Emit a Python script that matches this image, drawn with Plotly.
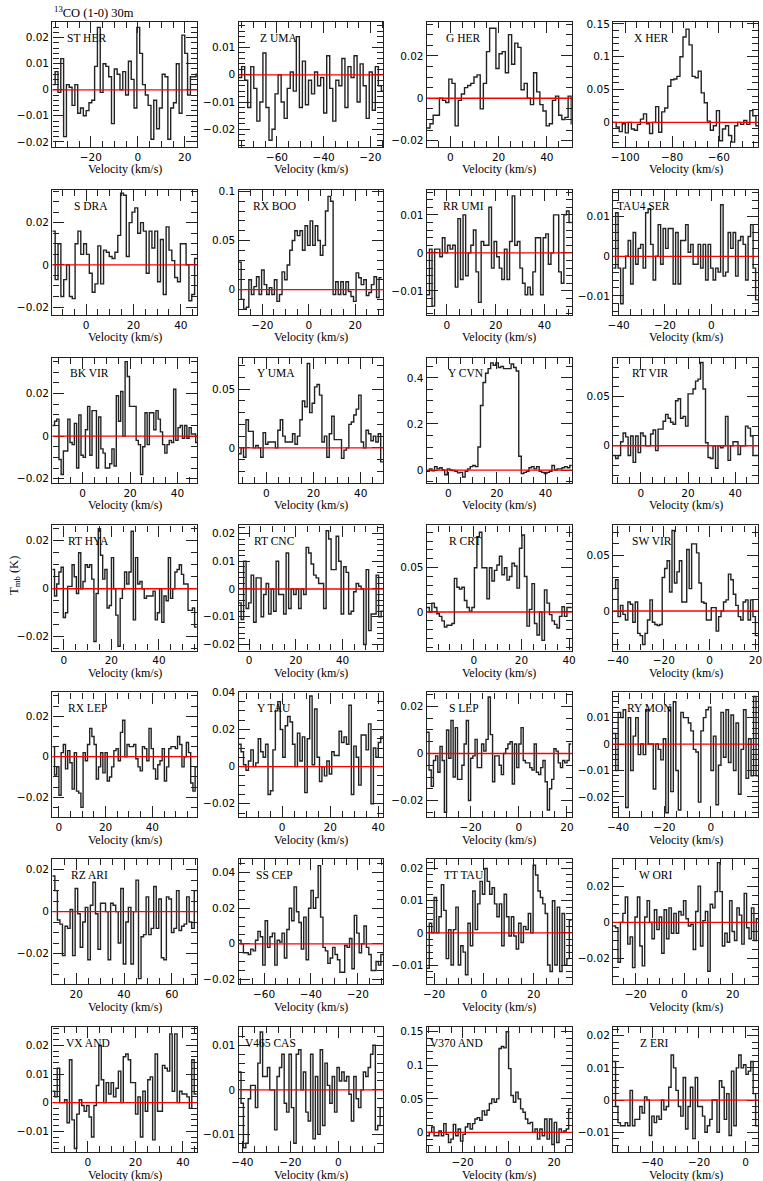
import math
import plotly.graph_objects as go

# panel order: left to right, top to bottom
STARS = ["ST HER", "Z UMA", "G HER", "X HER",
         "S DRA", "RX BOO", "RR UMI", "TAU4 SER",
         "BK VIR", "Y UMA", "Y CVN", "RT VIR",
         "RT HYA", "RT CNC", "R CRT", "SW VIR",
         "RX LEP", "Y TAU", "S LEP", "RY MON",
         "RZ ARI", "SS CEP", "TT TAU", "W ORI",
         "VX AND", "V465 CAS", "V370 AND", "Z ERI"]

# first channel edge and channel width (km/s)
V_START = [-36.4, -76.4, -9.7, -105.2,
           -14.2, -30.2, -8.2, -42.4,
           -12.8, -11.8, -8.8, -11.8,
           -4.8, -4.5, -19.7, -42.1,
           -2.8, -18.1, -38.2, -42.1,
           10.0, -70.9, -22.9, -29.3,
           -15.0, -41.6, -35.6, -56.8]
DV = [1.2, 1.3, 1.3, 1.3,
      1.2, 1.1, 1.06, 1.08,
      0.93, 1.04, 1.05, 1.06,
      0.92, 1.07, 1.05, 1.07,
      0.94, 1.02, 0.91, 1.08,
      1.06, 1.03, 0.97, 1.0,
      1.03, 1.0, 1.05, 1.035]

# T_mb per channel, in mK
ST_HER = [2, 7, -1, 12, -18, 2, 1, -6, 2, -9, -7, -10, -8, -5, -4, 9, 24, -1, 10, 9,
          5, -13, 8, 6, 0, 7, -2, 11, 4, -7, 24, 14, 2, -2, -6, -19, -4, -15, -7, 6,
          5, -19, -7, -5, 10, -9, 21, 14, -2, 5, 5, 6]
Z_UMA = [-1, 3, -2, -12, 3, -5, -17, -10, 8, -12, -24, -20, -7, 0, -10, -16, -5, 1, -6, 14,
         -12, 5, -11, -2, -7, 1, -4, -1, -14, 7, -5, -17, -2, -4, 6, -12, 3, -1, 7, -10,
         4, -4, -16, 1, -13, 3, -4, -6, 6]
G_HER = [-14, -12, -8, -8, 0, -1, -2, 9, 7, -13, -1, 2, 5, 6, 7, 10, 11, -5, 7, 22,
         33, 33, 14, 21, 22, 12, 30, 16, 26, 24, 4, 7, 0, -3, 12, 3, -3, -6, -13, -12,
         -1, 1, -8, -10, -9, 1, -12]
X_HER = [0, -7, -14, -2, -16, 0, -10, -12, -3, 5, 13, -2, -17, 0, 24, -15, 16, 22, 55, 65,
         66, 70, 100, 130, 142, 118, 70, 68, 78, 45, 30, 2, -12, -5, 18, -28, -10, -5, -20, -30,
         -5, 0, -3, 3, -3, 18, 10, -5, -8]
S_DRA = [16, -7, 10, -15, -7, 0, -15, -16, 10, 16, 5, 10, 5, -4, -13, -9, 9, -9, 7, 6,
         4, 3, 6, 14, 34, 33, 4, 20, 25, 27, 15, 20, 16, -4, 16, 8, 16, -8, 12, -14,
         18, 7, 2, -6, -8, 10, 10, 0, -17, -14, 3]
RX_BOO = [28, -10, -20, -18, 10, -5, 3, 13, -5, 20, 5, -5, 2, -5, 10, -12, -5, 18, 10, 25,
          40, 50, 60, 55, 60, 40, 65, 45, 70, 45, 65, 50, 35, 45, 80, 95, 90, -5, 8, -5,
          8, -5, 8, -2, -7, -12, 17, 12, 5, 10, -6, -3, 5, 13, -8, 12]
RR_UMI = [-11, 1, -14, 1, 1, -1, 4, 0, 2, 1, 2, -9, 9, -7, 10, -6, 0, 2, 6, -5,
          -13, 3, 2, 2, 12, -4, 3, -1, -4, -7, 1, -7, 3, 15, 2, 3, -4, -8, -11, -9,
          -11, -5, 4, 4, -11, 4, 5, -3, 0, 10, 10, -5, -8, 10, 11, 8]
TAU4_SER = [-3, 11, -3, -12, -3, 0, 4, -7, 6, -2, 2, 3, -3, 11, 12, 3, -6, 0, 8, -2,
            7, 2, 7, 7, -7, 6, -7, 4, 4, 8, 1, 3, -2, -2, 3, -3, 3, -6, 3, -3,
            -6, -3, -4, 13, -5, -4, 6, 2, 6, -5, 4, 5, 3, -6, 5, 8, -3, -11]
BK_VIR = [5, 7, 8, -11, -18, -7, -7, 8, -3, -4, 6, -15, 10, -9, -10, 3, 14, -9, 12, 12,
          -15, 9, -6, -8, -15, -15, -13, -6, -14, 19, 7, 21, 0, 35, 28, 14, 14, 14, -2, -4,
          -18, -5, 11, -4, 11, 11, 3, 12, 8, 2, -4, -8, -4, -2, -3, 22, -2, 4, 5, -1,
          5, -1, 4, 1, 1, -3]
Y_UMA = [-5, 0, -8, 24, 14, 14, 0, 2, 0, -8, 13, 3, 5, 5, 5, 0, 15, 24, 10, 5,
         5, 5, 12, 3, 10, 24, 40, 35, 72, 30, 38, 52, 54, 45, 5, 10, -8, 12, 27, 7,
         7, 7, -9, -2, 0, 20, 22, 28, 33, 45, 5, 0, 15, 12, 6, 10, 5, 12, -12]
Y_CVN = [-5, 5, -3, 15, 5, 10, 0, -20, 5, 0, -2, -5, -12, -10, -30, -5, 5, 15, 20, 15,
         100, 280, 380, 420, 440, 465, 455, 465, 445, 450, 440, 440, 440, 460, 445, 430, 60, -15, -10, -5,
         10, 15, 5, 15, -5, -10, -15, -10, -5, 20, 0, 5, 5, 10, 15, 10, 20]
RT_VIR = [-10, -13, -10, 4, 13, 9, -10, 10, -17, 10, -7, 13, 10, 0, 0, 12, 16, -5, 17, 17,
          25, 32, 28, 24, 22, 46, 48, 28, 30, 20, 53, 53, 58, 66, 68, 85, 58, 3, -12, -13,
          0, -23, 0, -2, 0, 30, -15, 0, 4, 4, -9, 0, 0, 20, 18, 10, -10, -10]
RT_HYA = [8, -3, 2, 7, 9, -12, -10, 1, 1, 10, 5, -2, 15, 0, 3, 10, 9, 10, 4, -22,
          -2, 25, 14, 4, 8, -8, -7, 13, 0, -11, -24, -4, 0, 7, 2, 7, 24, -13, 13, 2,
          3, 0, -4, -3, -3, -3, -1, -13, -10, 0, -14, -3, -5, 13, -4, 0, 7, 8, 10, 6,
          2, 2, -9, -9, -8, -16]
RT_CNC = [-5, -11, 10, -7, -5, 5, -12, 4, 4, -10, -2, 2, -9, 0, -8, 10, -2, -2, -9, 13,
          -7, 0, -2, 0, -7, 0, -2, 15, 13, 9, 5, 4, 2, 2, -7, 21, 18, 7, 7, 19,
          10, -9, 8, 6, -9, -8, -1, 2, 1, 0, -20, 7, -15, -9, -9, 5, -10, -8]
R_CRT = [5, 0, 10, 5, -2, -5, -10, -17, -15, -15, -13, 38, 28, 26, 28, 13, 5, 1, 5, 50,
         85, 90, 50, 50, 15, 50, 35, 47, 53, 63, 42, 50, 36, 40, 55, 52, 27, 72, 87, 40,
         -16, 3, 32, -13, -26, 0, -32, 25, 10, -3, -10, -14, -18, -5, 6, -5, 5, 5]
SW_VIR = [20, 28, -5, 5, -3, -8, 8, 6, -10, 8, -20, -22, -30, -20, -8, 10, -10, -12, -13, -12,
          30, 38, 45, 17, 72, 25, 35, 45, 8, 8, 55, 20, 60, 60, 52, 25, 8, 7, -8, -8,
          3, 3, -18, -5, 0, 8, 10, 33, 28, 15, 5, -5, -8, 8, 10, -8, 10, -5, -22]
RX_LEP = [5, -9, -5, -19, 2, 6, -6, 3, -3, -16, 2, -17, -18, -25, 2, -2, 6, 14, 10, 6,
          -11, -5, 2, -8, 2, -12, -10, -5, 3, 4, -2, 12, 18, 0, 6, 5, 5, 6, -1, -5,
          -7, 5, 4, -2, 14, 4, -6, -11, -4, -2, 4, -12, -5, 4, 5, 5, 4, 10, 6, -5,
          0, 7, 2, -13, -17, -5]
Y_TAU = [12, 8, 1, -2, 3, 9, 0, 2, 15, 8, 5, 12, -15, -13, 9, 30, 35, 20, 5, 22,
         27, 24, 12, 0, 18, 3, 16, -14, 15, 38, 1, 31, 5, -8, 0, -5, 3, -4, 8, 6,
         6, 19, 13, 16, 12, 33, -15, 11, 5, -10, 17, 17, 9, 23, -20, 10, 5, 13, 16]
S_LEP = [9, -7, -14, -3, -1, -8, 3, -3, -25, 10, -2, 14, -10, 11, -11, -11, -5, 4, 14, -20,
         -2, -1, 6, -6, -6, 4, 1, 6, 24, 8, -12, -1, -1, -5, -9, 0, 2, 4, 5, -13,
         4, -6, 4, 11, -3, -4, -4, -6, -7, 4, -8, -9, -6, -3, -12, -24, -15, -11, 2, 1,
         -4, -6, -3, -4, -3, 4]
RY_MON = [4, -10, 12, 10, 13, -24, 10, -10, 3, 10, -4, 0, -4, 13, 0, 0, -17, 0, -2, -6,
          2, -26, 14, -18, 16, -10, -25, 12, 10, 10, 8, 5, -2, -3, -22, 5, 10, 13, 14, -10,
          3, -23, -8, 12, -5, 13, -7, 11, -10, 8, -19, -2, 13, -13, 2, -12, 18, -12]
RZ_ARI = [17, 10, -4, -6, -21, -7, -8, 1, -21, 11, -1, -17, -5, 2, -23, 3, 14, -1, -18, 4,
          4, 0, -23, 4, 3, 0, -15, 11, -25, -5, 2, -25, 0, 15, -32, -12, -11, 7, -11, -8,
          12, -8, 6, -22, -23, 7, 6, -10, -8, 10, -9, -7, -6, 7, -5, -8, 10]
SS_CEP = [2, 0, -5, -5, -6, -3, -4, 2, 7, 4, -12, 13, -2, 4, 6, -12, 2, 1, 6, -8,
          8, 20, 13, 32, 18, 12, -3, 15, -9, 20, 30, 20, 26, 44, 15, -2, -4, -11, -8, -2,
          -6, -9, -16, -16, -1, -2, 3, -14, 16, 6, -5, 0, 10, -2, -6, -15, -15, -10, -12, -6]
TT_TAU = [-11, 3, 0, 11, 0, 5, 15, 7, -8, 1, -10, 1, 8, -10, -4, -6, -13, 3, -4, 13,
          1, 9, 16, 12, 20, 16, 12, 14, 9, 5, 9, -4, 12, 5, -1, 5, -1, -5, 3, -3,
          2, 1, 6, 0, 21, 18, 13, 11, 9, 6, -10, -12, 10, -10, 8, -12, 6, -10, -8, 4]
W_ORI = [-2, -3, -22, 0, 5, 14, -12, -8, -25, 3, 14, -13, -24, 3, 12, 0, -9, 7, -4, 3,
         -17, 7, -9, 8, -6, 5, -6, 6, 4, 12, 2, -2, -1, -15, 6, 20, -13, 1, 6, -27,
         10, 8, 17, 33, 17, -13, -6, -11, 12, -5, -10, 8, 4, -12, 16, -3, -9, 8, -10, 2]
VX_AND = [4, 2, 12, 0, 0, 1, -7, 15, -6, -16, -4, 1, -1, -3, -1, -5, -12, -1, 6, 20,
          8, 0, 7, 3, 7, 2, 5, 11, 0, 16, 17, 15, 7, 7, -4, 2, -12, 4, -3, 8,
          9, -13, 17, -3, -3, 13, 12, 11, 24, 4, 24, 0, 4, 3, 3, 2, -2, 15, 3]
V465_CAS = [4, -3, -13, -12, -2, 1, 1, -4, 6, 13, 3, 3, 5, 0, 0, -9, 3, 5, 8, -3,
            -5, 8, -4, -12, 8, 9, 0, 4, -5, -7, 8, -11, 3, -10, 9, -8, 6, 1, -3, 3,
            -5, 5, 2, 4, 2, 3, -1, -7, 3, -2, -4, 0, 4, 3, 5, 8, 10, -9, -8, -4]
V370_AND = [-5, 0, 8, -5, -5, 2, -5, 13, -3, -15, -10, 12, -5, 5, -13, -3, 8, 13, 5, 13,
            20, 22, 18, 32, 26, 33, 43, 50, 45, 50, 125, 128, 126, 150, 95, 55, 45, 60, 50, 35,
            30, 20, 13, 15, 0, 5, -10, 5, -5, 20, -10, 20, -18, 15, -15, 5, 0, 2, 5, 35]
Z_ERI = [12, -2, -7, -8, -8, -7, -8, 3, -8, -6, -6, -2, -4, 1, 0, -11, -5, -7, -5, -6,
         0, -3, -2, 4, 14, 10, 3, -2, -5, 7, -9, -2, 4, -12, 7, -2, -2, -5, -10, -8,
         -6, 0, 0, -10, 6, 4, -6, 2, -11, 9, -8, 10, 14, 10, 11, 8, 9, 12, 2, -8]

SPECTRA = [ST_HER, Z_UMA, G_HER, X_HER, S_DRA, RX_BOO, RR_UMI, TAU4_SER,
           BK_VIR, Y_UMA, Y_CVN, RT_VIR, RT_HYA, RT_CNC, R_CRT, SW_VIR,
           RX_LEP, Y_TAU, S_LEP, RY_MON, RZ_ARI, SS_CEP, TT_TAU, W_ORI,
           VX_AND, V465_CAS, V370_AND, Z_ERI]

# plotted window of every panel
X_RANGE = [(-36.4, 25.3), (-76.4, -14.4), (-9.7, 50.3), (-105.2, -43.2),
           (-14.2, 46.9), (-30.2, 32.2), (-8.2, 51.2), (-42.4, 20.2),
           (-12.8, 48.3), (-11.8, 49.7), (-8.8, 50.8), (-11.8, 49.7),
           (-4.8, 56.1), (-4.5, 57.5), (-19.7, 41.1), (-42.1, 21.1),
           (-2.8, 59.2), (-18.1, 42.2), (-38.2, 22.0), (-42.1, 20.3),
           (10.0, 70.6), (-70.9, -9.0), (-22.9, 35.3), (-29.3, 30.4),
           (-15.0, 46.0), (-41.6, 18.8), (-35.6, 27.7), (-56.8, 5.3)]
Y_RANGE = [(-0.022, 0.0261), (-0.0265, 0.0194), (-0.023, 0.036), (-0.0375, 0.153),
           (-0.0237, 0.0356), (-0.0258, 0.1017), (-0.0163, 0.0166), (-0.0148, 0.0168),
           (-0.0219, 0.0369), (-0.0298, 0.077), (-0.055, 0.488), (-0.0378, 0.090),
           (-0.0258, 0.0264), (-0.0222, 0.0229), (-0.0436, 0.0977), (-0.0354, 0.0765),
           (-0.030, 0.0318), (-0.0274, 0.040), (-0.0272, 0.026), (-0.0278, 0.0196),
           (-0.0347, 0.025), (-0.0228, 0.0476), (-0.016, 0.0229), (-0.0342, 0.0349),
           (-0.0173, 0.0264), (-0.014, 0.0141), (-0.0295, 0.157), (-0.0162, 0.0227)]
Y_STEP = [0.01, 0.01, 0.02, 0.05,
          0.02, 0.05, 0.01, 0.01,
          0.02, 0.05, 0.2, 0.05,
          0.02, 0.01, 0.05, 0.05,
          0.02, 0.02, 0.02, 0.01,
          0.02, 0.02, 0.01, 0.02,
          0.01, 0.01, 0.05, 0.01]
X_STEP = 20
# where the star name starts, px from the left frame
LABEL_DX = [13, 20, 17, 19, 20, 13, 14, 2,
            16, 17, 19, 17, 14, 14, 20, 17,
            14, 17, 20, 12, 17, 16, 15, 24,
            12, 4, 1, 25]

W, H = 763, 1181
COL_X = [46, 235, 426, 615]
PW = 147
ROW_Y = [16, 185, 354, 523, 691, 859, 1028]
PH = 126

SERIF = "Liberation Serif"
SANS = "DejaVu Sans"


def minor_step(step):
    mant = round(step / 10 ** math.floor(math.log10(step)))
    return step / 4 if mant == 2 else step / 5


fig = go.Figure()
shapes, notes = [], []
for i, name in enumerate(STARS):
    k = "" if i == 0 else str(i + 1)
    r, c = divmod(i, 4)
    vals = [t / 1000 for t in SPECTRA[i]]
    edges = [V_START[i] + j * DV[i] for j in range(len(vals) + 1)]
    fig.add_trace(go.Scatter(x=edges, y=vals + vals[-1:], mode="lines",
                             line=dict(color="#222", width=1.4, shape="hv"),
                             xaxis="x" + k, yaxis="y" + k, hoverinfo="skip"))

    x0 = COL_X[c] / W
    x1 = min((COL_X[c] + PW) / W, 0.999)
    y1 = 1 - ROW_Y[r] / H
    y0 = 1 - (ROW_Y[r] + PH) / H
    common = dict(showline=True, mirror="allticks", linecolor="#222", linewidth=1.4,
                  ticks="inside", ticklen=11, tickwidth=1.2, tickcolor="#222",
                  showgrid=False, zeroline=False,
                  tickfont=dict(family=SANS, size=10.5, color="black"))
    fig.update_layout(**{
        "xaxis" + k: dict(domain=[x0, x1], range=list(X_RANGE[i]), anchor="y" + k,
                          dtick=X_STEP, tick0=0,
                          minor=dict(ticks="inside", ticklen=6, dtick=minor_step(X_STEP),
                                     tick0=0, tickcolor="#222", tickwidth=1.2),
                          **common),
        "yaxis" + k: dict(domain=[y0, y1], range=list(Y_RANGE[i]), anchor="x" + k,
                          dtick=Y_STEP[i], tick0=0,
                          minor=dict(ticks="inside", ticklen=6, dtick=minor_step(Y_STEP[i]),
                                     tick0=0, tickcolor="#222", tickwidth=1.2),
                          **common),
    })
    shapes.append(dict(type="line", xref="x" + k + " domain", x0=0, x1=1,
                       yref="y" + k, y0=0, y1=0, line=dict(color="red", width=1.3)))
    notes.append(dict(text=name, xref="x" + k + " domain", yref="y" + k + " domain",
                      x=LABEL_DX[i] / PW, y=1 - 16 / PH, xanchor="left", yanchor="middle",
                      showarrow=False, font=dict(family=SERIF, size=11.5, color="black")))
    notes.append(dict(text="Velocity (km/s)", xref="x" + k + " domain", yref="y" + k + " domain",
                      x=0.5, y=-22.5 / PH, xanchor="center", yanchor="middle",
                      showarrow=False, font=dict(family=SERIF, size=12, color="black")))

notes.append(dict(text="<sup>13</sup>CO (1-0) 30m", xref="paper", yref="paper",
                  x=46 / W, y=1 - 6 / H, xanchor="left", yanchor="middle", showarrow=False,
                  font=dict(family=SERIF, size=12.5, color="black")))
notes.append(dict(text="T<sub>mb</sub> (K)", xref="paper", yref="paper",
                  x=8 / W, y=1 - 573 / H, xanchor="center", yanchor="middle", textangle=-90,
                  showarrow=False, font=dict(family=SERIF, size=12.5, color="black")))

fig.update_layout(width=W, height=H, margin=dict(l=0, r=0, t=0, b=0),
                  paper_bgcolor="white", plot_bgcolor="white", showlegend=False,
                  shapes=shapes, annotations=notes)
fig.write_html("out.html", config={"displayModeBar": False},
               post_script="document.body.style.margin='0';document.body.style.overflow='hidden';")
